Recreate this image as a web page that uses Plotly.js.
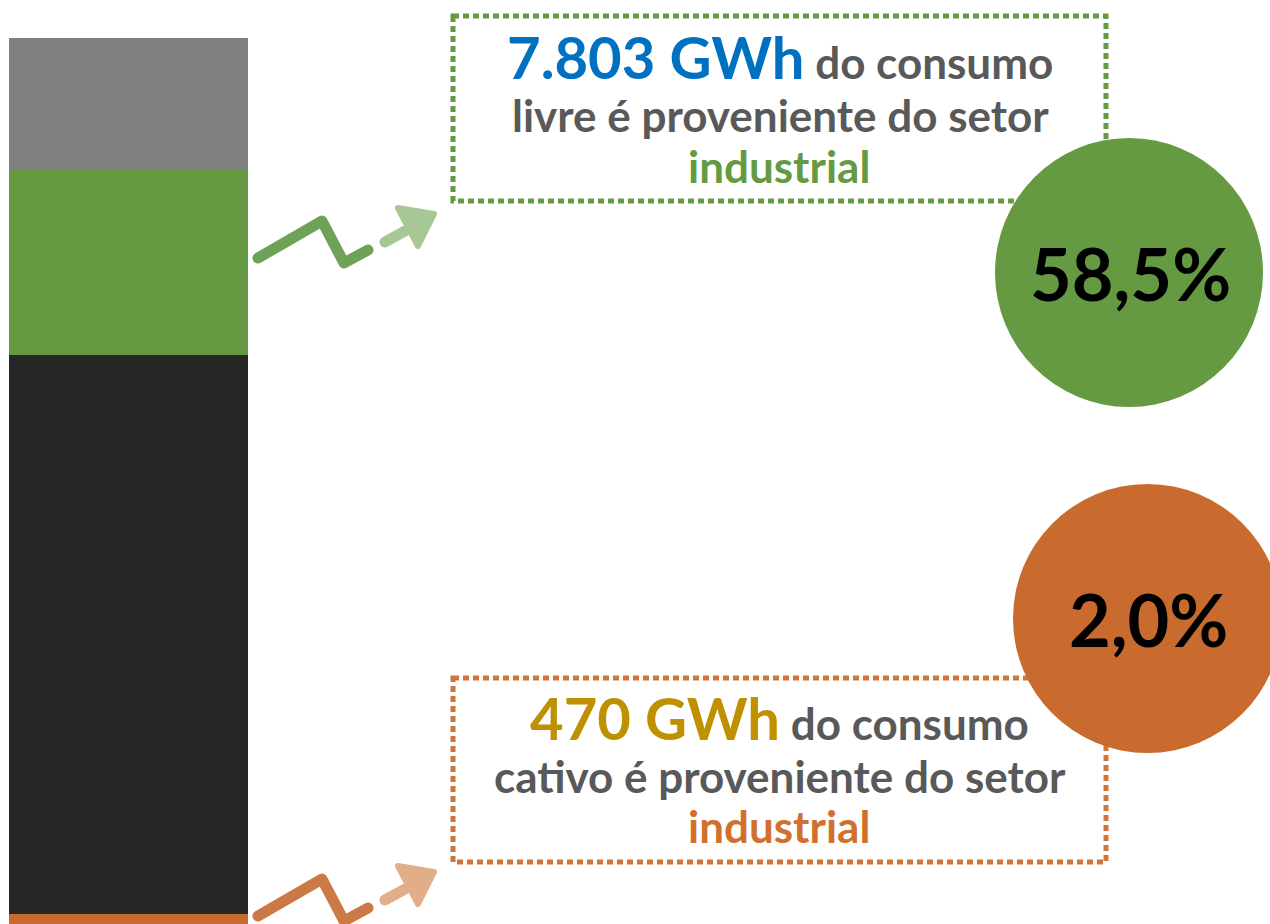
<!DOCTYPE html>
<html><head><meta charset="utf-8">
<script src="https://cdn.plot.ly/plotly-3.0.1.min.js"></script>
<style>
html,body{margin:0;padding:0;background:#fff;}
#chart{width:1270px;height:924px;}
.shapelayer path[data-index="0"], .shapelayer path[data-index="1"],
.shapelayer path[data-index="2"], .shapelayer path[data-index="3"],
.shapelayer path[data-index="4"], .shapelayer path[data-index="5"]{stroke-linecap:round;stroke-linejoin:round;}
</style></head><body><div id="chart"></div>
<script>
// ---- data ----
const segments = ['Livre – demais setores', 'Livre – setor industrial', 'Cativo – demais setores', 'Cativo – setor industrial'];
const consumoGWh = [5535, 7803, 23550, 470];
const segmentColors = ['#808080', '#649841', '#262626', '#c96a2e'];
const calloutGWh = ['7.803 GWh', '470 GWh'];
const calloutMarket = ['livre', 'cativo'];
const calloutShare = ['58,5%', '2,0%'];

// ---- layout helpers (pixel -> paper) ----
const W = 1270, H = 924;
const px = x => x / W;
const py = y => 1 - y / H;
const path = pts => pts.map((p, i) => (i ? 'L' : 'M') + px(p[0]).toFixed(5) + ',' + py(p[1]).toFixed(5)).join(' ');
const closed = pts => path(pts) + ' Z';

const traces = [];
for (let i = consumoGWh.length - 1; i >= 0; i--) {
  traces.push({
    type: 'bar', x: [0], y: [consumoGWh[i]], width: 1, name: segments[i],
    marker: {color: segmentColors[i], line: {width: 0}},
    hovertemplate: segments[i] + ': %{y:,.0f} GWh<extra></extra>'
  });
}

function arrow(dy, dark, light) {
  const s = [
    {type: 'path', xref: 'paper', yref: 'paper', path: path([[258, 258 + dy], [322, 221 + dy], [344, 263 + dy], [368, 250 + dy]]), line: {color: dark, width: 11}},
    {type: 'path', xref: 'paper', yref: 'paper', path: path([[385, 242 + dy], [405, 231 + dy]]), line: {color: light, width: 11}}
  ];
  const head = {type: 'path', xref: 'paper', yref: 'paper', path: closed([[398, 208 + dy], [434, 214 + dy], [418, 246 + dy]]), fillcolor: light, line: {color: light, width: 6}};
  return [s, head];
}
const ga = arrow(0, '#6fa156', '#a8c796');
const oa = arrow(658, '#cc7a45', '#e2ae89');

const boxStyle = c => ({color: c, width: 5, dash: '6px,4px'});
const shapes = [
  ga[0][0], ga[0][1], oa[0][0], oa[0][1], ga[1], oa[1],
  {type: 'rect', xref: 'paper', yref: 'paper', x0: px(453), x1: px(1106), y0: py(16), y1: py(201), line: boxStyle('#649a41'), fillcolor: 'rgba(0,0,0,0)'},
  {type: 'rect', xref: 'paper', yref: 'paper', x0: px(453), x1: px(1106), y0: py(678), y1: py(862), line: boxStyle('#d0743a'), fillcolor: 'rgba(0,0,0,0)'},
  {type: 'circle', xref: 'paper', yref: 'paper', x0: px(995), x1: px(1263), y0: py(138), y1: py(407), fillcolor: '#659a42', line: {width: 0}},
  {type: 'circle', xref: 'paper', yref: 'paper', x0: px(1013), x1: px(1282), y0: py(484), y1: py(753), fillcolor: '#c96a2e', line: {width: 0}}
];

const FONT = 'Lato, "Open Sans", sans-serif';
const GRAY = '#595959';
function ann(x, y, text, size, color) {
  return {xref: 'paper', yref: 'paper', x: px(x), y: py(y), xanchor: 'center', yanchor: 'middle',
    text: text, showarrow: false, font: {family: FONT, size: size, color: color}};
}
const annotations = [
  ann(780, 57, '<b><span style="color:#0070c0;font-size:58px">' + calloutGWh[0] + '</span> do consumo</b>', 44, GRAY),
  ann(780, 115, '<b>' + calloutMarket[0] + ' é proveniente do setor</b>', 44, GRAY),
  ann(779, 166, '<b>industrial</b>', 44, '#649a41'),
  ann(779, 717, '<b><span style="color:#bf9000;font-size:58px">' + calloutGWh[1] + '</span> do consumo</b>', 44, GRAY),
  ann(780, 776, '<b>' + calloutMarket[1] + ' é proveniente do setor</b>', 44, GRAY),
  ann(779, 826, '<b>industrial</b>', 44, '#d0702f'),
  ann(1130, 273, '<b>' + calloutShare[0] + '</b>', 72, '#000000'),
  ann(1148, 619, '<b>' + calloutShare[1] + '</b>', 72, '#000000')
];

const layout = {
  width: W, height: H, margin: {l: 0, r: 0, t: 0, b: 0},
  paper_bgcolor: '#ffffff', plot_bgcolor: 'rgba(0,0,0,0)',
  barmode: 'stack', bargap: 0, showlegend: false,
  xaxis: {domain: [px(9), px(248)], range: [-0.5, 0.5], visible: false, fixedrange: true},
  yaxis: {domain: [0, 1], range: [62, 38958], visible: false, fixedrange: true},
  shapes: shapes, annotations: annotations,
  font: {family: FONT}
};
Plotly.newPlot('chart', traces, layout, {displayModeBar: false, staticPlot: true});
</script></body></html>
